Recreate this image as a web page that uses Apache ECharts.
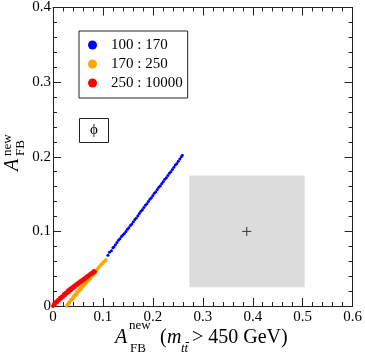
<!DOCTYPE html>
<html>
<head>
<meta charset="utf-8">
<script src="https://cdn.jsdelivr.net/npm/echarts@6/dist/echarts.min.js"></script>
<style>
  html, body { margin: 0; padding: 0; background: #fff; }
  #chart { width: 365px; height: 355px; }
</style>
</head>
<body>
<div id="chart"></div>
<script>
// legend labels (mass ranges)
const rangeNames = ['100 : 170', '170 : 250', '250 : 10000'];

// scan points
const blueXY = [
  [0.110, 0.068], [0.113, 0.072], [0.117, 0.074], [0.120, 0.078], [0.122, 0.079],
  [0.125, 0.082], [0.128, 0.085], [0.131, 0.088], [0.134, 0.090], [0.137, 0.093],
  [0.140, 0.095], [0.143, 0.097], [0.146, 0.100], [0.149, 0.103], [0.152, 0.105],
  [0.155, 0.108], [0.158, 0.110], [0.161, 0.113], [0.164, 0.116], [0.167, 0.118],
  [0.170, 0.121], [0.173, 0.124], [0.176, 0.127], [0.179, 0.129], [0.182, 0.132],
  [0.185, 0.135], [0.188, 0.137], [0.191, 0.140], [0.194, 0.143], [0.197, 0.145],
  [0.200, 0.148], [0.203, 0.151], [0.206, 0.153], [0.209, 0.156], [0.212, 0.159],
  [0.215, 0.161], [0.218, 0.164], [0.221, 0.167], [0.224, 0.170], [0.227, 0.172],
  [0.230, 0.175], [0.233, 0.178], [0.236, 0.180], [0.239, 0.183], [0.242, 0.186],
  [0.245, 0.189], [0.248, 0.191], [0.251, 0.194], [0.254, 0.197], [0.257, 0.200],
  [0.259, 0.202]
];

const orangeXY = [
  [0.027, 0.000], [0.030, 0.002], [0.033, 0.004], [0.036, 0.007], [0.039, 0.009],
  [0.042, 0.011], [0.045, 0.014], [0.048, 0.016], [0.051, 0.019], [0.054, 0.021],
  [0.057, 0.023], [0.060, 0.026], [0.063, 0.028], [0.066, 0.030], [0.069, 0.033],
  [0.072, 0.035], [0.075, 0.037], [0.078, 0.040], [0.081, 0.042], [0.084, 0.044],
  [0.029, 0.002], [0.032, 0.005], [0.035, 0.008], [0.038, 0.010], [0.041, 0.013],
  [0.044, 0.015], [0.047, 0.018], [0.050, 0.020], [0.053, 0.023], [0.056, 0.025],
  [0.059, 0.028], [0.062, 0.030], [0.065, 0.032], [0.068, 0.035], [0.071, 0.037],
  [0.074, 0.040], [0.077, 0.042], [0.080, 0.045], [0.083, 0.047],
  [0.087, 0.047], [0.089, 0.050], [0.091, 0.051], [0.093, 0.053], [0.095, 0.054],
  [0.097, 0.056], [0.099, 0.057], [0.101, 0.059], [0.104, 0.060], [0.106, 0.062]
];

const redXY = [
  [0.000, 0.0000], [0.004, 0.0025], [0.008, 0.0049], [0.012, 0.0073], [0.016, 0.0096],
  [0.020, 0.0120], [0.024, 0.0143], [0.028, 0.0166], [0.032, 0.0189], [0.036, 0.0211],
  [0.040, 0.0233], [0.044, 0.0255], [0.048, 0.0277], [0.052, 0.0298], [0.056, 0.0319],
  [0.060, 0.0340], [0.064, 0.0360], [0.068, 0.0381], [0.072, 0.0401], [0.076, 0.0421],
  [0.080, 0.0440], [0.084, 0.0460],
  [0.002, 0.003], [0.006, 0.006], [0.010, 0.008], [0.014, 0.011], [0.018, 0.013],
  [0.022, 0.016], [0.026, 0.018], [0.030, 0.021], [0.034, 0.023], [0.038, 0.025],
  [0.042, 0.027], [0.046, 0.029], [0.050, 0.031], [0.054, 0.033], [0.058, 0.035],
  [0.062, 0.037], [0.066, 0.039], [0.070, 0.041], [0.074, 0.043], [0.078, 0.045],
  [0.082, 0.047]
];

// measured value (+) and its 1-sigma box
const measuredXY = [0.388, 0.1];
const boxX = [0.273, 0.504];
const boxY = [0.025, 0.175];

const serif = '"Liberation Serif", "Times New Roman", serif';
const frameColor = '#222';

const myChart = echarts.init(document.getElementById('chart'));

const makeAxis = (pos, max, showLabel) => ({
  type: 'value',
  position: pos,
  min: 0,
  max: max,
  interval: 0.1,
  splitLine: { show: false },
  axisLine: { show: true, onZero: false, lineStyle: { color: frameColor, width: 1 } },
  axisTick: { show: true, inside: true, length: 8, lineStyle: { color: frameColor } },
  minorTick: { show: true, splitNumber: 5, length: 4, lineStyle: { color: frameColor } },
  axisLabel: {
    show: showLabel,
    color: '#000',
    fontFamily: serif,
    fontSize: 15,
    margin: pos === 'bottom' ? 4 : 2,
  },
});

const txt = (text, x, y, size, italic, rot) => ({
  type: 'text',
  x: x,
  y: y,
  rotation: rot || 0,
  style: {
    text: text,
    fill: '#000',
    font: (italic ? 'italic ' : '') + size + 'px ' + serif,
    textAlign: 'left',
    textVerticalAlign: 'middle',
  },
});

const option = {
  animation: false,
  grid: { left: 53, right: 11, top: 6, bottom: 49 },
  xAxis: [makeAxis('bottom', 0.6, true), makeAxis('top', 0.6, false)],
  yAxis: [makeAxis('left', 0.4, true), makeAxis('right', 0.4, false)],
  legend: {
    data: rangeNames,
    orient: 'vertical',
    left: 79,
    top: 31,
    icon: 'circle',
    itemWidth: 9,
    itemHeight: 9,
    itemGap: 1,
    padding: [5, 5, 6, 9],
    borderColor: frameColor,
    borderWidth: 1,
    backgroundColor: '#fff',
    textStyle: {
      color: '#000',
      fontFamily: serif,
      fontSize: 15,
      lineHeight: 18,
      padding: [0, 0, 0, 9],
    },
  },
  series: [
    {
      name: 'measured',
      type: 'scatter',
      data: [measuredXY],
      symbol: 'path://M0,5H10M5,0V10',
      symbolSize: 9,
      itemStyle: { color: 'none', borderColor: '#333', borderWidth: 1, opacity: 1 },
      silent: true,
      markArea: {
        silent: true,
        itemStyle: { color: '#dcdcdc', opacity: 1 },
        data: [[{ coord: [boxX[0], boxY[1]] }, { coord: [boxX[1], boxY[0]] }]],
      },
      z: 1,
    },
    {
      name: rangeNames[0],
      type: 'scatter',
      data: blueXY,
      symbolSize: 3,
      itemStyle: { color: '#0000ff', opacity: 1 },
      z: 3,
    },
    {
      name: rangeNames[1],
      type: 'scatter',
      data: orangeXY,
      symbolSize: 3.5,
      itemStyle: { color: '#ffa500', opacity: 1 },
      z: 4,
    },
    {
      name: rangeNames[2],
      type: 'scatter',
      data: redXY,
      symbolSize: 4,
      itemStyle: { color: '#ff0000', opacity: 1 },
      z: 5,
    },
  ],
  graphic: [
    // phi label box
    {
      type: 'rect',
      shape: { x: 79.5, y: 118.5, width: 29, height: 24 },
      style: { fill: '#fff', stroke: frameColor, lineWidth: 1 },
      z: 10,
    },
    {
      type: 'text',
      x: 94,
      y: 130.5,
      z: 11,
      style: {
        text: 'ϕ',
        fill: '#000',
        font: '15px ' + serif,
        textAlign: 'center',
        textVerticalAlign: 'middle',
      },
    },
    // x axis title
    txt('A', 115, 338, 20, true),
    txt('new', 129, 326, 13, false),
    txt('FB', 130, 348.5, 13, false),
    txt('(', 160, 338, 20, false),
    txt('m', 167, 338, 20, true),
    txt('tt', 181, 348.5, 13, true),
    {
      type: 'line',
      shape: { x1: 185.5, y1: 342.5, x2: 189, y2: 342.5 },
      style: { stroke: '#000', lineWidth: 1 },
    },
    txt('> 450 GeV)', 192, 338, 20, false),
    // y axis title (rotated)
    txt('A', 13, 171, 20, true, Math.PI / 2),
    txt('new', 7.5, 156, 13, false, Math.PI / 2),
    txt('FB', 20.5, 156, 13, false, Math.PI / 2),
  ],
};

myChart.setOption(option);
window.addEventListener('resize', () => {
  myChart.resize();
});
</script>
</body>
</html>
